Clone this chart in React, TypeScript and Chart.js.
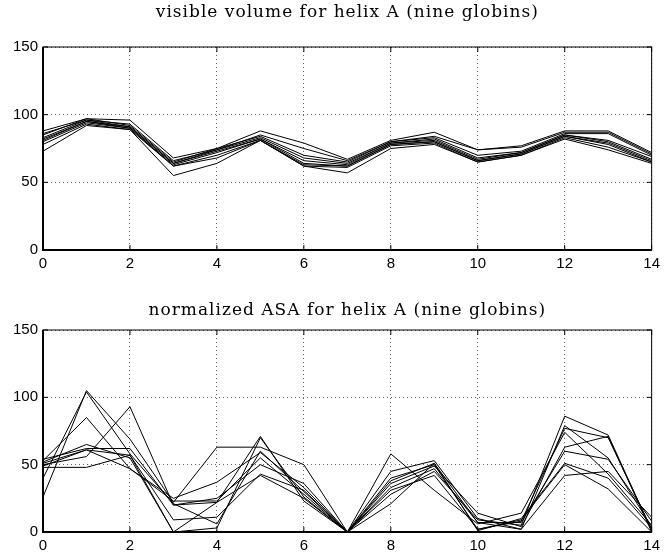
import React, { useEffect, useRef } from "react";
import { Chart, registerables } from "chart.js";

Chart.register(...registerables);

const positions = [0, 1, 2, 3, 4, 5, 6, 7, 8, 9, 10, 11, 12, 13, 14];
const xTicks = [0, 2, 4, 6, 8, 10, 12, 14];
const yTicks = [0, 50, 100, 150];

const topTitle = "visible volume for helix A (nine globins)";
const bottomTitle = "normalized ASA for helix A (nine globins)";

// visible volume, nine globins
const vol1 = [88, 97, 96, 68, 75, 88, 79, 67, 81, 87, 74, 77, 88, 88, 72];
const vol2 = [86, 96, 93, 66, 74, 85, 75, 66, 80, 84, 74, 76, 87, 87, 71];
const vol3 = [85, 97, 92, 65, 75, 84, 70, 65, 80, 83, 70, 73, 86, 86, 70];
const vol4 = [83, 96, 91, 64, 74, 83, 68, 64, 79, 82, 68, 72, 85, 81, 69];
const vol5 = [82, 95, 91, 64, 73, 82, 66, 63, 79, 81, 67, 72, 85, 80, 67];
const vol6 = [81, 95, 90, 63, 72, 82, 64, 62, 78, 80, 66, 71, 84, 79, 66];
const vol7 = [80, 94, 90, 62, 70, 81, 63, 62, 78, 80, 66, 71, 84, 78, 65];
const vol8 = [78, 93, 89, 62, 68, 81, 62, 61, 77, 79, 65, 70, 83, 76, 65];
const vol9 = [73, 92, 89, 55, 64, 81, 62, 57, 75, 78, 65, 70, 82, 74, 64];

// normalized ASA, nine globins
const asa1 = [54, 62, 62, 20, 22, 71, 23, 0, 40, 50, 2, 8, 77, 70, 2];
const asa2 = [26, 105, 69, 22, 63, 63, 50, 0, 28, 45, 9, 5, 86, 72, 1];
const asa3 = [40, 104, 58, 21, 6, 60, 30, 0, 45, 53, 10, 2, 79, 55, 4];
const asa4 = [53, 85, 47, 25, 37, 59, 33, 0, 58, 31, 6, 14, 74, 43, 5];
const asa5 = [52, 65, 55, 0, 3, 70, 26, 0, 36, 49, 14, 4, 63, 71, 0];
const asa6 = [51, 61, 47, 23, 23, 55, 28, 0, 33, 47, 7, 7, 60, 54, 8];
const asa7 = [50, 56, 93, 20, 25, 50, 36, 0, 38, 51, 1, 10, 51, 40, 3];
const asa8 = [49, 61, 57, 9, 11, 43, 31, 0, 31, 42, 2, 9, 50, 32, 0];
const asa9 = [48, 48, 57, 0, 22, 42, 25, 0, 21, 51, 7, 2, 42, 45, 11];

const volSeries = [vol1, vol2, vol3, vol4, vol5, vol6, vol7, vol8, vol9];
const asaSeries = [asa1, asa2, asa3, asa4, asa5, asa6, asa7, asa8, asa9];

const tickFont = { family: "'Liberation Sans', Arial, sans-serif", size: 15 };

function makeConfig(series: number[][], title: string, padTop: number, xHeight: number, titleY: number): any {
  const frame = {
    id: "frame",
    afterDraw(chart: any) {
      const { ctx, chartArea } = chart;
      const { left, right, top, bottom } = chartArea;
      ctx.save();
      ctx.strokeStyle = "#000";
      ctx.lineWidth = 1;
      ctx.strokeRect(left, top, right - left, bottom - top);
      ctx.lineWidth = 2;
      ctx.beginPath();
      ctx.moveTo(left, top);
      ctx.lineTo(left, bottom);
      ctx.lineTo(right, bottom);
      ctx.stroke();
      // inward ticks
      ctx.lineWidth = 1;
      const xs = chart.scales.x;
      const ys = chart.scales.y;
      ctx.beginPath();
      xTicks.forEach((t) => {
        const px = xs.getPixelForValue(t);
        ctx.moveTo(px, bottom);
        ctx.lineTo(px, bottom - 5);
        ctx.moveTo(px, top);
        ctx.lineTo(px, top + 5);
      });
      yTicks.forEach((t) => {
        const py = ys.getPixelForValue(t);
        ctx.moveTo(left, py);
        ctx.lineTo(left + 5, py);
        ctx.moveTo(right, py);
        ctx.lineTo(right - 5, py);
      });
      ctx.stroke();
      // title
      ctx.fillStyle = "#000";
      ctx.font = "17px 'DejaVu Serif', serif";
      try {
        (ctx as any).letterSpacing = "1px";
      } catch (e) {}
      ctx.textAlign = "center";
      ctx.textBaseline = "alphabetic";
      ctx.fillText(title, (left + right) / 2, titleY);
      ctx.restore();
    },
  };
  return {
    type: "line",
    data: {
      datasets: series.map((s, i) => ({
        label: "globin " + (i + 1),
        data: s.map((v, j) => ({ x: positions[j], y: v })),
        borderColor: "#000",
        borderWidth: 1,
        pointRadius: 0,
        fill: false,
        tension: 0,
      })),
    },
    options: {
      animation: false,
      responsive: false,
      layout: { padding: { top: padTop, right: 11, left: 0, bottom: 0 } },
      plugins: { legend: { display: false }, title: { display: false }, tooltip: { enabled: false } },
      scales: {
        x: {
          type: "linear",
          min: 0,
          max: 14,
          afterBuildTicks: (s: any) => {
            s.ticks = xTicks.map((v) => ({ value: v }));
          },
          ticks: { color: "#000", font: tickFont, padding: 5, maxRotation: 0, autoSkip: false },
          grid: { color: "#666", lineWidth: 1, drawTicks: false },
          border: { display: false, dash: [1, 3] },
          afterFit: (s: any) => {
            s.height = xHeight;
          },
        },
        y: {
          type: "linear",
          min: 0,
          max: 150,
          afterBuildTicks: (s: any) => {
            s.ticks = yTicks.map((v) => ({ value: v }));
          },
          ticks: { color: "#000", font: tickFont, padding: 5 },
          grid: { color: "#666", lineWidth: 1, drawTicks: false },
          border: { display: false, dash: [1, 3] },
          afterFit: (s: any) => {
            s.width = 43;
          },
        },
      },
    },
    plugins: [frame],
  };
}

export default function App() {
  const ref1 = useRef<HTMLCanvasElement>(null);
  const ref2 = useRef<HTMLCanvasElement>(null);
  useEffect(() => {
    const c1 = new Chart(ref1.current as HTMLCanvasElement, makeConfig(volSeries, topTitle, 47, 26, 17));
    const c2 = new Chart(ref2.current as HTMLCanvasElement, makeConfig(asaSeries, bottomTitle, 54, 20, 39));
    return () => {
      c1.destroy();
      c2.destroy();
    };
  }, []);
  return (
    <div style={{ position: "absolute", left: 0, top: 0, width: 665, height: 552, background: "#fff" }}>
      <canvas ref={ref1} width={665} height={276} style={{ position: "absolute", left: 0, top: 0, width: 665, height: 276 }} />
      <canvas ref={ref2} width={665} height={276} style={{ position: "absolute", left: 0, top: 276, width: 665, height: 276 }} />
    </div>
  );
}
